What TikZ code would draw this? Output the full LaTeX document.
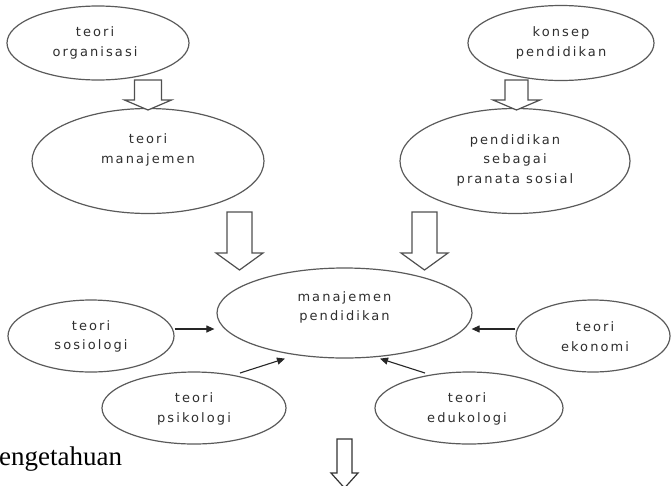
\documentclass[tikz,border=0pt]{standalone}
\usepackage{fontspec}
\setmainfont{Liberation Serif}
\newfontfamily\comicf[LetterSpace=16]{DejaVu Sans}
\usetikzlibrary{arrows.meta,shapes.geometric}
\definecolor{ellc}{HTML}{5A5A5A}
\definecolor{txtc}{HTML}{2E2E2E}
\definecolor{arrc}{HTML}{505050}
\begin{document}
\begin{tikzpicture}[x=1pt,y=-1pt,
  ell/.style={draw=ellc, line width=1.2pt, ellipse, inner sep=0pt},
  txt/.style={align=center, font=\comicf\fontsize{13}{19.5}\selectfont, text=txtc, inner sep=0pt},
  thinarrow/.style={draw=black!85, line width=1.1pt, -{Triangle[length=8pt,width=7pt]}},
  hollow/.style={draw=arrc, line width=1.2pt, fill=white, line join=miter}]
\useasboundingbox (0,0) rectangle (671,485);

% ellipses
\node[ell, minimum width=182pt, minimum height=74pt] (org) at (98,43) {};
\node[ell, minimum width=232pt, minimum height=105pt] (man) at (148,161) {};
\node[ell, minimum width=186pt, minimum height=75pt] (kon) at (561,43) {};
\node[ell, minimum width=230pt, minimum height=105pt] (pra) at (515,161) {};
\node[ell, minimum width=255pt, minimum height=90pt] (mp) at (344.5,313) {};
\node[ell, minimum width=166pt, minimum height=72pt] (sos) at (91,336) {};
\node[ell, minimum width=184pt, minimum height=72pt] (psi) at (194,408) {};
\node[ell, minimum width=154pt, minimum height=72pt] (eko) at (593,336) {};
\node[ell, minimum width=188pt, minimum height=72pt] (edu) at (469,408) {};

% texts
\node[txt] (orgt) at (95,43) {teori\\organisasi};
\node[txt] (mant) at (148,150) {teori\\manajemen};
\node[txt] (kont) at (561,43) {konsep\\pendidikan};
\node[txt] (prat) at (515,160) {pendidikan\\sebagai\\pranata sosial};
\node[txt] (mpt) at (344.5,307.5) {manajemen\\pendidikan};
\node[txt] (sost) at (91,336.5) {teori\\sosiologi};
\node[txt] (psit) at (194,409) {teori\\psikologi};
\node[txt] (ekot) at (595,336.5) {teori\\ekonomi};
\node[txt] (edut) at (467,409) {teori\\edukologi};

% hollow arrows
\draw[hollow] (134.5,80) -- (161.5,80) -- (161.5,100) -- (171.5,100) -- (148,110)
  -- (124.5,100) -- (134.5,100) -- cycle;
\draw[hollow] (505,80) -- (528,80) -- (528,100) -- (540,100) -- (516.5,110)
  -- (493,100) -- (505,100) -- cycle;
\draw[hollow] (227,212) -- (252,212) -- (252,253) -- (263,253) -- (239.5,270)
  -- (216,253) -- (227,253) -- cycle;
\draw[hollow] (412,212) -- (437,212) -- (437,253) -- (448,253) -- (424.5,270)
  -- (401,253) -- (412,253) -- cycle;
\draw[hollow, draw=black!80] (337,439) -- (352,439) -- (352,473) -- (358,473) -- (344.5,488)
  -- (331,473) -- (337,473) -- cycle;

% thin arrows
\draw[thinarrow] ([yshift=7pt]sos.east) -- ([xshift=-2pt,yshift=-16pt]mp.west);
\draw[thinarrow] ([yshift=7pt]eko.west) -- ([xshift=-1pt,yshift=-16pt]mp.east);
\draw[thinarrow] ([xshift=46pt,yshift=35pt]psi.center) -- ([xshift=-59.5pt]mp.south);
\draw[thinarrow] ([xshift=-44pt,yshift=35pt]edu.center) -- ([xshift=35.5pt]mp.south);

% cut text
\node[anchor=base west, inner sep=0pt, font=\fontsize{27}{30}\selectfont] (peng) at (-1,465) {engetahuan};
\end{tikzpicture}
\end{document}
